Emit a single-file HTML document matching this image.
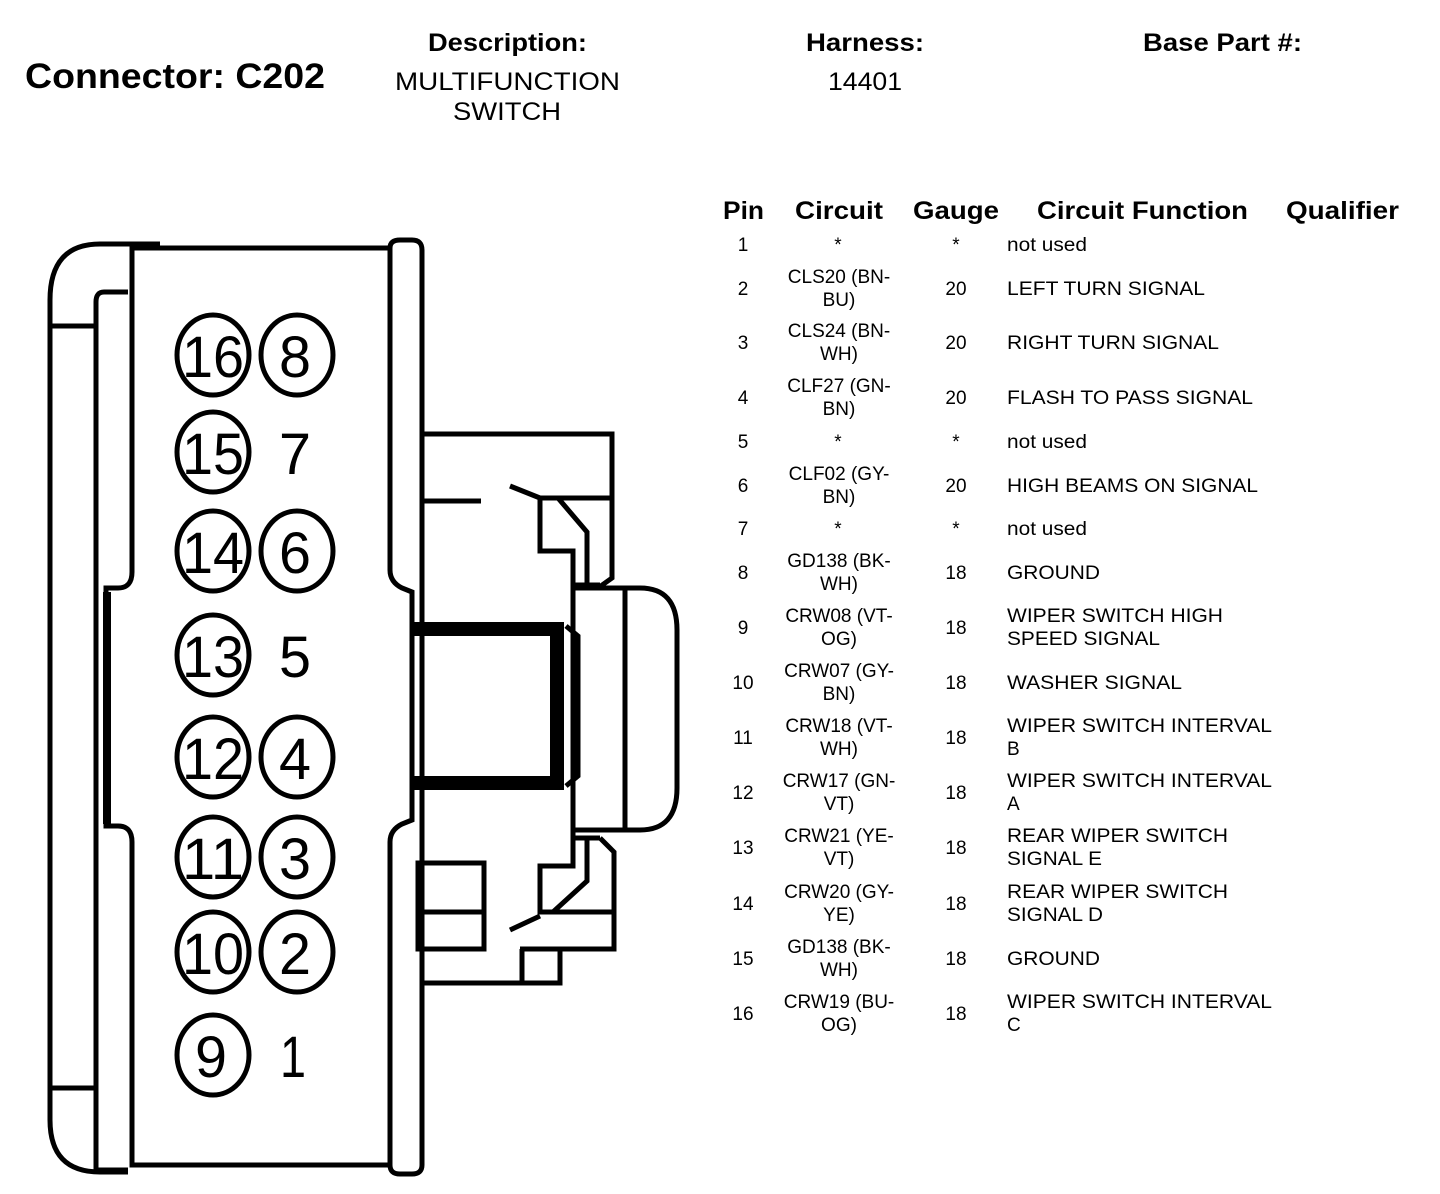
<!DOCTYPE html>
<html><head><meta charset="utf-8"><style>
html,body{margin:0;padding:0;background:#fff;}
svg{display:block;}
text{font-family:"Liberation Sans",Arial,sans-serif;fill:#000;}
.h{font-weight:bold;font-size:25px;}
.t{font-size:19px;}
.n{font-size:58px;}
</style></head><body>
<svg width="1440" height="1194" viewBox="0 0 1440 1194" xmlns="http://www.w3.org/2000/svg">
<!-- header -->
<text x="25" y="88" font-size="35" font-weight="bold" textLength="300" lengthAdjust="spacingAndGlyphs">Connector: C202</text>
<text class="h" x="428" y="51" textLength="159" lengthAdjust="spacingAndGlyphs">Description:</text>
<text x="395" y="90" font-size="25" textLength="225" lengthAdjust="spacingAndGlyphs">MULTIFUNCTION</text>
<text x="453" y="120" font-size="25" textLength="108" lengthAdjust="spacingAndGlyphs">SWITCH</text>
<text class="h" x="806" y="51" textLength="118" lengthAdjust="spacingAndGlyphs">Harness:</text>
<text x="828" y="90" font-size="25" textLength="74" lengthAdjust="spacingAndGlyphs">14401</text>
<text class="h" x="1143" y="51" textLength="159" lengthAdjust="spacingAndGlyphs">Base Part #:</text>

<!-- table header -->
<text class="h" x="723" y="219" textLength="41" lengthAdjust="spacingAndGlyphs">Pin</text>
<text class="h" x="795" y="219" textLength="88" lengthAdjust="spacingAndGlyphs">Circuit</text>
<text class="h" x="913" y="219" textLength="86" lengthAdjust="spacingAndGlyphs">Gauge</text>
<text class="h" x="1037" y="219" textLength="211" lengthAdjust="spacingAndGlyphs">Circuit Function</text>
<text class="h" x="1286" y="219" textLength="113" lengthAdjust="spacingAndGlyphs">Qualifier</text>

<g class="t">
<text x="743" y="251" text-anchor="middle">1</text><text x="838" y="251" text-anchor="middle">*</text><text x="956" y="251" text-anchor="middle">*</text><text x="1007" y="251" textLength="80" lengthAdjust="spacingAndGlyphs">not used</text>

<text x="743" y="295" text-anchor="middle">2</text><text x="839" y="283" text-anchor="middle">CLS20 (BN-</text><text x="839" y="306" text-anchor="middle">BU)</text><text x="956" y="295" text-anchor="middle">20</text><text x="1007" y="295" textLength="198" lengthAdjust="spacingAndGlyphs">LEFT TURN SIGNAL</text>

<text x="743" y="349" text-anchor="middle">3</text><text x="839" y="337" text-anchor="middle">CLS24 (BN-</text><text x="839" y="360" text-anchor="middle">WH)</text><text x="956" y="349" text-anchor="middle">20</text><text x="1007" y="349" textLength="212" lengthAdjust="spacingAndGlyphs">RIGHT TURN SIGNAL</text>

<text x="743" y="404" text-anchor="middle">4</text><text x="839" y="392" text-anchor="middle">CLF27 (GN-</text><text x="839" y="415" text-anchor="middle">BN)</text><text x="956" y="404" text-anchor="middle">20</text><text x="1007" y="404" textLength="246" lengthAdjust="spacingAndGlyphs">FLASH TO PASS SIGNAL</text>

<text x="743" y="448" text-anchor="middle">5</text><text x="838" y="448" text-anchor="middle">*</text><text x="956" y="448" text-anchor="middle">*</text><text x="1007" y="448" textLength="80" lengthAdjust="spacingAndGlyphs">not used</text>

<text x="743" y="492" text-anchor="middle">6</text><text x="839" y="480" text-anchor="middle">CLF02 (GY-</text><text x="839" y="503" text-anchor="middle">BN)</text><text x="956" y="492" text-anchor="middle">20</text><text x="1007" y="492" textLength="251" lengthAdjust="spacingAndGlyphs">HIGH BEAMS ON SIGNAL</text>

<text x="743" y="535" text-anchor="middle">7</text><text x="838" y="535" text-anchor="middle">*</text><text x="956" y="535" text-anchor="middle">*</text><text x="1007" y="535" textLength="80" lengthAdjust="spacingAndGlyphs">not used</text>

<text x="743" y="579" text-anchor="middle">8</text><text x="839" y="567" text-anchor="middle">GD138 (BK-</text><text x="839" y="590" text-anchor="middle">WH)</text><text x="956" y="579" text-anchor="middle">18</text><text x="1007" y="579" textLength="93" lengthAdjust="spacingAndGlyphs">GROUND</text>

<text x="743" y="634" text-anchor="middle">9</text><text x="839" y="622" text-anchor="middle">CRW08 (VT-</text><text x="839" y="645" text-anchor="middle">OG)</text><text x="956" y="634" text-anchor="middle">18</text><text x="1007" y="622" textLength="216" lengthAdjust="spacingAndGlyphs">WIPER SWITCH HIGH</text><text x="1007" y="645" textLength="153" lengthAdjust="spacingAndGlyphs">SPEED SIGNAL</text>

<text x="743" y="689" text-anchor="middle">10</text><text x="839" y="677" text-anchor="middle">CRW07 (GY-</text><text x="839" y="700" text-anchor="middle">BN)</text><text x="956" y="689" text-anchor="middle">18</text><text x="1007" y="689" textLength="175" lengthAdjust="spacingAndGlyphs">WASHER SIGNAL</text>

<text x="743" y="744" text-anchor="middle">11</text><text x="839" y="732" text-anchor="middle">CRW18 (VT-</text><text x="839" y="755" text-anchor="middle">WH)</text><text x="956" y="744" text-anchor="middle">18</text><text x="1007" y="732" textLength="265" lengthAdjust="spacingAndGlyphs">WIPER SWITCH INTERVAL</text><text x="1007" y="755">B</text>

<text x="743" y="799" text-anchor="middle">12</text><text x="839" y="787" text-anchor="middle">CRW17 (GN-</text><text x="839" y="810" text-anchor="middle">VT)</text><text x="956" y="799" text-anchor="middle">18</text><text x="1007" y="787" textLength="265" lengthAdjust="spacingAndGlyphs">WIPER SWITCH INTERVAL</text><text x="1007" y="810">A</text>

<text x="743" y="854" text-anchor="middle">13</text><text x="839" y="842" text-anchor="middle">CRW21 (YE-</text><text x="839" y="865" text-anchor="middle">VT)</text><text x="956" y="854" text-anchor="middle">18</text><text x="1007" y="842" textLength="221" lengthAdjust="spacingAndGlyphs">REAR WIPER SWITCH</text><text x="1007" y="865" textLength="95" lengthAdjust="spacingAndGlyphs">SIGNAL E</text>

<text x="743" y="910" text-anchor="middle">14</text><text x="839" y="898" text-anchor="middle">CRW20 (GY-</text><text x="839" y="921" text-anchor="middle">YE)</text><text x="956" y="910" text-anchor="middle">18</text><text x="1007" y="898" textLength="221" lengthAdjust="spacingAndGlyphs">REAR WIPER SWITCH</text><text x="1007" y="921" textLength="96" lengthAdjust="spacingAndGlyphs">SIGNAL D</text>

<text x="743" y="965" text-anchor="middle">15</text><text x="839" y="953" text-anchor="middle">GD138 (BK-</text><text x="839" y="976" text-anchor="middle">WH)</text><text x="956" y="965" text-anchor="middle">18</text><text x="1007" y="965" textLength="93" lengthAdjust="spacingAndGlyphs">GROUND</text>

<text x="743" y="1020" text-anchor="middle">16</text><text x="839" y="1008" text-anchor="middle">CRW19 (BU-</text><text x="839" y="1031" text-anchor="middle">OG)</text><text x="956" y="1020" text-anchor="middle">18</text><text x="1007" y="1008" textLength="265" lengthAdjust="spacingAndGlyphs">WIPER SWITCH INTERVAL</text><text x="1007" y="1031">C</text>
</g>

<!-- connector drawing -->
<g fill="none" stroke="#000" stroke-width="5" stroke-linejoin="miter">
  <path d="M160 244 L100 244 Q50 244 50 300 L50 1120 Q50 1172 100 1172 L128 1172"/>
  <line x1="52" y1="326" x2="95" y2="326"/>
  <line x1="52" y1="1088" x2="95" y2="1088"/>
  <path d="M128 292 L104 292 Q96 292 96 302 L96 1170 L128 1170"/>
  <path d="M132 248 L390 248 L390 570 Q390 582 402 588 L412 592 L412 820 L402 824 Q390 830 390 842 L390 1165 L132 1165 L132 842 Q132 826 118 826 L106 826 L106 588 L118 588 Q132 588 132 572 Z"/>
  <path d="M390 248 Q390 240 400 240 L412 240 Q422 240 422 250 L422 1165 Q422 1174 412 1174 L400 1174 Q390 1174 390 1165"/>
  <path d="M422 434 L612 434 L612 578 L598 588"/>
  <path d="M422 983 L560 983 L560 949 L614 949 L614 852 L600 838"/>
  <line x1="520" y1="949" x2="562" y2="949"/>
  <line x1="522" y1="949" x2="522" y2="983"/>
  <line x1="540" y1="498" x2="612" y2="498"/>
  <line x1="423" y1="501" x2="481" y2="501"/>
  <line x1="510" y1="486" x2="540" y2="498"/>
  <path d="M540 498 L540 551 L573 551 L573 588"/>
  <path d="M558 498 L587 532 L587 583"/>
  <line x1="573" y1="585" x2="600" y2="585"/>
  <path d="M573 588 L573 830 L625 830 L625 588 Z"/>
  <path d="M625 588 L640 588 Q677 588 677 630 L677 788 Q677 830 640 830 L625 830"/>
  <path d="M566 626 L578 636 L578 776 L566 786"/>
  <path d="M573 830 L573 866 L540 866 L540 912 L612 912"/>
  <path d="M587 838 L587 881 L553 912"/>
  <line x1="510" y1="930" x2="540" y2="916"/>
  <line x1="573" y1="838" x2="600" y2="838"/>
  <rect x="418" y="863" width="66" height="86"/>
  <line x1="418" y1="912" x2="484" y2="912"/>
</g>
<rect x="412" y="622" width="145" height="14" fill="#000"/>
<rect x="412" y="776" width="145" height="14" fill="#000"/>
<rect x="550" y="622" width="14" height="168" fill="#000"/>
<rect x="103" y="592" width="8" height="232" fill="#000"/>

<!-- pin circles -->
<g fill="none" stroke="#000" stroke-width="5">
  <ellipse cx="213" cy="355" rx="36" ry="40"/><ellipse cx="297" cy="355" rx="36" ry="40"/>
  <ellipse cx="213" cy="452" rx="36" ry="40"/>
  <ellipse cx="213" cy="551" rx="36" ry="40"/><ellipse cx="297" cy="551" rx="36" ry="40"/>
  <ellipse cx="213" cy="655" rx="36" ry="40"/>
  <ellipse cx="213" cy="757" rx="36" ry="40"/><ellipse cx="297" cy="757" rx="36" ry="40"/>
  <ellipse cx="213" cy="857" rx="36" ry="40"/><ellipse cx="297" cy="857" rx="36" ry="40"/>
  <ellipse cx="213" cy="952" rx="36" ry="40"/><ellipse cx="297" cy="952" rx="36" ry="40"/>
  <ellipse cx="213" cy="1055" rx="36" ry="40"/>
</g>
<g class="n" text-anchor="middle">
  <text x="213" y="377" textLength="62" lengthAdjust="spacingAndGlyphs">16</text><text x="295" y="377" textLength="32" lengthAdjust="spacingAndGlyphs">8</text>
  <text x="213" y="474" textLength="62" lengthAdjust="spacingAndGlyphs">15</text><text x="295" y="474" textLength="32" lengthAdjust="spacingAndGlyphs">7</text>
  <text x="213" y="573" textLength="62" lengthAdjust="spacingAndGlyphs">14</text><text x="295" y="573" textLength="32" lengthAdjust="spacingAndGlyphs">6</text>
  <text x="213" y="677" textLength="62" lengthAdjust="spacingAndGlyphs">13</text><text x="295" y="677" textLength="32" lengthAdjust="spacingAndGlyphs">5</text>
  <text x="213" y="779" textLength="62" lengthAdjust="spacingAndGlyphs">12</text><text x="295" y="779" textLength="32" lengthAdjust="spacingAndGlyphs">4</text>
  <text x="213" y="879" textLength="62" lengthAdjust="spacingAndGlyphs">11</text><text x="295" y="879" textLength="32" lengthAdjust="spacingAndGlyphs">3</text>
  <text x="213" y="974" textLength="62" lengthAdjust="spacingAndGlyphs">10</text><text x="295" y="974" textLength="32" lengthAdjust="spacingAndGlyphs">2</text>
  <text x="211" y="1077" textLength="32" lengthAdjust="spacingAndGlyphs">9</text><text x="293" y="1077" textLength="26" lengthAdjust="spacingAndGlyphs">1</text>
</g>
</svg>
</body></html>
